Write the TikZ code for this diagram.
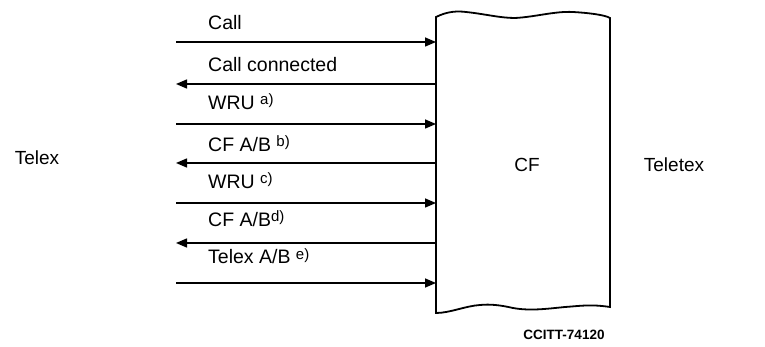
\documentclass[tikz,border=0pt]{standalone}
\usepackage{fontspec}
\setmainfont{Liberation Sans}
\usetikzlibrary{arrows.meta}
\newcommand{\fnote}[1]{\raisebox{5pt}{\fontsize{15}{15}\selectfont #1}}
\begin{document}
\begin{tikzpicture}[x=1pt,y=-1pt,
	sig/.style={line width=1.5pt,-{Triangle[length=11pt,width=9pt]}},
	lbl/.style={anchor=base west,inner sep=0pt,font=\fontsize{19.5}{21}\selectfont},
	side/.style={inner sep=0pt,font=\fontsize{19}{21}\selectfont}]
	\useasboundingbox (0,0) rectangle (765,347);
	\draw[line width=1.8pt] (436,17) .. controls (448,11) and (458,11) .. (466,12) .. controls (485,14) and (500,18) .. (515,18) .. controls (535,17) and (555,11) .. (573,12) .. controls (590,13) and (605,15) .. (610,18) -- (610,307) .. controls (590,304) and (580,306) .. (565,307) .. controls (545,309) and (530,311) .. (513,308) .. controls (500,305) and (490,304) .. (480,305) .. controls (465,306) and (450,313) .. (436,313) -- cycle;
	\node[side] (cf) at (527,165) {CF};
	\node[side] (telex) at (37,158) {Telex};
	\node[side] (teletex) at (674,165) {Teletex};
	\node[inner sep=0pt,font=\fontsize{13.5}{14}\selectfont\bfseries] (ccitt) at (564,335) {CCITT-74120};
	\coordinate (s1) at (176,42); \coordinate (e1) at (436,42);
	\coordinate (s2) at (176,84); \coordinate (e2) at (436,84);
	\coordinate (s3) at (176,124); \coordinate (e3) at (436,124);
	\coordinate (s4) at (176,163); \coordinate (e4) at (436,163);
	\coordinate (s5) at (176,203); \coordinate (e5) at (436,203);
	\coordinate (s6) at (176,243); \coordinate (e6) at (436,243);
	\coordinate (s7) at (176,283); \coordinate (e7) at (436,283);
	\draw[sig] (s1) -- (e1);
	\draw[sig] (e2) -- (s2);
	\draw[sig] (s3) -- (e3);
	\draw[sig] (e4) -- (s4);
	\draw[sig] (s5) -- (e5);
	\draw[sig] (e6) -- (s6);
	\draw[sig] (s7) -- (e7);
	\node[lbl] (call) at (208,30) {Call};
	\node[lbl] (conn) at (208,72) {Call connected};
	\node[lbl] (wrua) at (208,110) {WRU \fnote{a)}};
	\node[lbl] (cfb) at (208,152) {CF A/B \fnote{b)}};
	\node[lbl] (wruc) at (208,189) {WRU \fnote{c)}};
	\node[lbl] (cfd) at (208,227) {CF A/B\fnote{d)}};
	\node[lbl] (telexe) at (208,264) {Telex A/B \fnote{e)}};
\end{tikzpicture}
\end{document}
